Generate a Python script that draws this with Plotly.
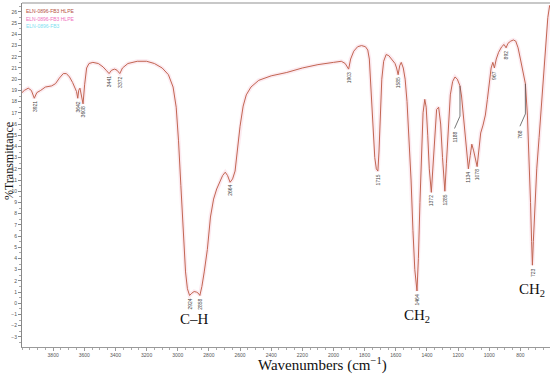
import plotly.graph_objects as go

# Spectrum (wavenumber cm-1, %T)
wavenumber = [4000, 3985, 3960, 3940, 3921, 3905, 3880, 3850, 3810, 3785, 3760, 3735, 3715, 3695, 3675,
              3660, 3650, 3642, 3636, 3628, 3620, 3608, 3598, 3585, 3570, 3545, 3510, 3480, 3460, 3441,
              3425, 3405, 3390, 3372, 3355, 3320, 3260, 3200, 3150, 3100, 3060, 3030, 3010, 2995, 2980,
              2965, 2950, 2938, 2924, 2910, 2895, 2880, 2868, 2858, 2845, 2830, 2810, 2790, 2770, 2750,
              2730, 2712, 2695, 2680, 2664, 2648, 2632, 2618, 2600, 2580, 2560, 2530, 2480, 2400, 2300,
              2200, 2100, 2000, 1950, 1925, 1903, 1890, 1870, 1845, 1820, 1795, 1780, 1770, 1760, 1748,
              1735, 1725, 1715, 1708, 1700, 1690, 1678, 1662, 1645, 1625, 1605, 1595, 1585, 1575, 1565,
              1552, 1540, 1528, 1515, 1502, 1490, 1478, 1464, 1455, 1445, 1435, 1425, 1414, 1405, 1395,
              1385, 1372, 1362, 1350, 1338, 1325, 1312, 1300, 1285, 1275, 1262, 1250, 1235, 1220, 1205,
              1188, 1178, 1165, 1150, 1140, 1134, 1122, 1112, 1100, 1088, 1078, 1068, 1055, 1040, 1025,
              1012, 1000, 988, 977, 967, 955, 940, 920, 905, 892, 880, 862, 845, 830, 815,
              800, 785, 768, 755, 745, 735, 728, 723, 717, 708, 695, 680, 665, 650, 636,
              624, 612]
transmittance = [18.8, 19.0, 19.2, 19.0, 18.3, 18.8, 19.0, 19.3, 19.4, 19.6, 20.1, 20.5, 20.5, 20.2, 19.7,
                 19.2, 18.9, 18.3, 19.0, 19.2, 18.7, 17.8, 19.5, 21.0, 21.4, 21.5, 21.4, 21.1, 20.8, 20.5,
                 20.8, 20.9, 20.8, 20.5, 21.0, 21.4, 21.6, 21.6, 21.4, 21.0, 20.4, 19.3, 17.5, 14.5, 10.5,
                 6.0, 2.8, 1.3, 0.7, 0.9, 1.05, 1.0, 0.9, 0.7, 1.5, 2.8, 4.8, 7.7, 9.3, 10.2,
                 10.8, 11.4, 11.7, 11.4, 10.8, 11.1, 11.8, 13.5, 15.8, 17.6, 18.6, 19.3, 19.9, 20.3, 20.6,
                 21.0, 21.3, 21.5, 21.6, 21.4, 20.9, 21.8, 22.5, 22.9, 23.0, 22.9, 22.6, 21.8, 19.5, 16.0,
                 13.0, 12.0, 11.8, 13.5, 17.0, 20.0, 21.6, 22.2, 22.1, 21.8, 21.4, 21.0, 20.4, 21.2, 21.5,
                 21.0, 20.0, 18.0, 15.0, 11.0, 6.5, 3.0, 1.1, 4.0, 9.0, 14.0, 17.0, 18.2, 17.5, 15.0,
                 12.0, 9.9, 12.0, 15.5, 17.3, 17.5, 16.0, 13.0, 10.0, 12.5, 16.0, 18.6, 19.8, 20.2, 20.0,
                 19.4, 18.5, 16.5, 14.0, 12.5, 12.0, 13.2, 14.2, 13.6, 12.7, 12.2, 13.5, 15.2, 15.9, 16.8,
                 18.2, 19.6, 21.0, 21.5, 21.0, 21.8, 22.4, 22.9, 23.1, 22.8, 23.2, 23.4, 23.5, 23.4, 22.8,
                 21.8, 20.6, 19.6, 16.8, 13.5, 9.0, 5.5, 3.4, 5.5, 8.8, 12.0, 14.8, 17.5, 20.0, 23.0,
                 25.5, 26.6]

# Peak labels placed directly under the dips
peak_wn = [3921, 3642, 3608, 3441, 3372, 2924, 2858, 2664, 1903, 1715, 1585, 1464, 1372, 1285,
           1134, 1078, 967, 892, 723]
peak_T = [18.3, 18.3, 17.8, 20.5, 20.5, 0.7, 0.7, 10.8, 20.9, 11.8, 20.4, 1.1, 9.9, 10.0,
          12.0, 12.2, 21.0, 22.8, 3.4]
peak_text = ["3921", "3642", "3608", "3441", "3372", "2924", "2858", "2664", "1903", "1715", "1585",
             "1464", "1372", "1285", "1134", "1078", "967", "892", "723"]

# Shoulder labels with leader lines
shoulder_wn = [1188, 768]
shoulder_T = [19.4, 19.6]
shoulder_text = ["1188", "768"]

# Band assignment labels
band_wn = [2890, 1464, 723]
band_T = [0.7, 1.1, 3.4]
band_text = ["C\u2013H", "CH<sub>2</sub>", "CH<sub>2</sub>"]

x_ticks = [3800, 3600, 3400, 3200, 3000, 2800, 2600, 2400, 2200, 2000, 1800, 1600, 1400, 1200, 1000, 800]
y_ticks = list(range(-3, 27))

fig = go.Figure()
fig.add_trace(go.Scatter(x=wavenumber, y=transmittance, mode="lines",
                         line=dict(color="rgba(245,170,195,0.25)", width=4), hoverinfo="skip"))
fig.add_trace(go.Scatter(x=wavenumber, y=transmittance, mode="lines",
                         line=dict(color="#c26652", width=1)))

ann = []
for w, t, s in zip(peak_wn, peak_T, peak_text):
    ann.append(dict(x=w, y=t, text=s, showarrow=False, textangle=-90, xanchor="center", yanchor="top",
                    yshift=-1, font=dict(size=5, color="#444", family="Liberation Sans")))

shapes = []
for w, t, s in zip(shoulder_wn, shoulder_T, shoulder_text):
    shapes.append(dict(type="path", xref="x", yref="y",
                       path=f"M {w},{t} L {w},{t-2.7} L {w+35},{t-3.8}",
                       line=dict(color="#555", width=0.8)))
    ann.append(dict(x=w + 35, y=t - 3.8, text=s, showarrow=False, textangle=-90, xanchor="center",
                    yanchor="top", yshift=-1, font=dict(size=5, color="#444", family="Liberation Sans")))

for w, t, s in zip(band_wn, band_T, band_text):
    ann.append(dict(x=w, y=t, text=s, showarrow=False, xanchor="center", yanchor="top", yshift=-14,
                    font=dict(size=15, color="#111", family="Liberation Serif")))

ann.append(dict(x=0.57, y=-0.018, xref="paper", yref="paper", text="Wavenumbers (cm<sup>\u22121</sup>)",
                showarrow=False, xanchor="center", yanchor="top",
                font=dict(size=15, color="#111", family="Liberation Serif")))
ann.append(dict(x=-0.025, y=0.54, xref="paper", yref="paper", text="%Transmittance", textangle=-90,
                showarrow=False, xanchor="center", yanchor="middle",
                font=dict(size=12, color="#111", family="Liberation Serif")))

legend_lines = [("ELN-0896-FB3 HLPE", "#b5503f"), ("ELN-0896-FB3 HLPE", "#f070c0"), ("ELN-0896-FB3", "#80e0f0")]
for i, (s, c) in enumerate(legend_lines):
    ann.append(dict(x=0.003, y=0.99 - i * 0.021, xref="paper", yref="paper", text=s, showarrow=False,
                    xanchor="left", yanchor="top", font=dict(size=5, color=c, family="Liberation Sans")))

shapes.append(dict(type="line", xref="paper", yref="paper", x0=0, x1=1, y0=1, y1=1,
                   line=dict(color="#c8c8c8", width=2)))

fig.update_layout(
    width=550, height=377,
    margin=dict(l=22, r=0, t=3, b=30),
    paper_bgcolor="white", plot_bgcolor="white",
    showlegend=False,
    annotations=ann, shapes=shapes,
    xaxis=dict(range=[4000, 610], tickvals=x_ticks, showgrid=False, zeroline=False,
               showline=True, linecolor="#999", linewidth=1, ticks="outside", ticklen=3,
               tickcolor="#999", tickfont=dict(size=5, color="#555", family="Liberation Sans"),
               minor=dict(dtick=50, ticks="outside", ticklen=2, tickcolor="#aaa")),
    yaxis=dict(range=[-3.9, 26.8], tickvals=y_ticks, showgrid=False, zeroline=False,
               showline=True, linecolor="#888", linewidth=1, ticks="outside", ticklen=3,
               tickcolor="#888", tickfont=dict(size=5, color="#555", family="Liberation Sans"),
               minor=dict(dtick=0.5, ticks="outside", ticklen=2, tickcolor="#aaa")),
)

fig.write_html("out.html", config={"displayModeBar": False},
               post_script="document.body.style.margin='0';")
